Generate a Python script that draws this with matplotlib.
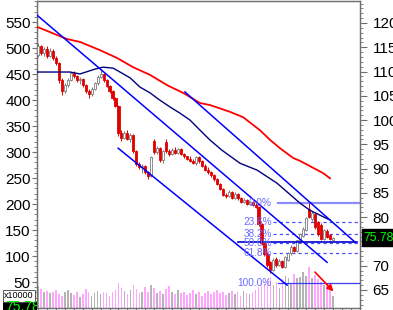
import numpy as np
import matplotlib.pyplot as plt
from matplotlib.ticker import MultipleLocator, NullFormatter
from matplotlib.patches import Rectangle
import matplotlib.transforms as mtransforms

plt.rcParams['font.family'] = ['Liberation Sans', 'DejaVu Sans']

# daily bars, price on the right hand scale
opens = [113.5, 115.2, 113.8, 114.6, 113.2, 114.3, 112.8, 111.8, 108.2, 106.0,
         107.2, 108.3, 109.6, 109.0, 108.2, 108.5, 107.2, 105.9, 105.3, 106.5,
         107.6, 108.9, 109.4, 108.2, 107.1, 105.9, 104.6, 103.0, 97.3, 96.3,
         97.4, 96.2, 97.0, 93.6, 90.9, 90.3, 90.6, 89.3, 88.5, 95.6,
         93.4, 94.2, 91.8, 95.5, 93.6, 93.0, 93.9, 93.3, 94.0, 93.1,
         92.5, 92.0, 91.6, 91.2, 92.3, 91.5, 90.6, 89.8, 89.3, 88.6,
         87.8, 86.9, 85.8, 84.6, 84.3, 85.2, 84.0, 84.8, 83.9, 83.2,
         83.6, 82.8, 83.1, 82.5, 82.1, 78.6, 74.6, 72.5, 70.8, 69.1,
         71.4, 70.1, 71.0, 69.8, 71.2, 72.6, 73.9, 73.1, 75.0, 76.2,
         77.4, 81.6, 79.6, 80.6, 79.0, 78.4, 75.6, 77.2, 76.3, 75.4]
highs = [115.8, 115.5, 115.0, 115.2, 114.8, 114.6, 113.2, 112.0, 108.6, 107.6,
         108.6, 110.0, 110.2, 109.3, 108.8, 108.7, 107.4, 106.5, 106.8, 107.9,
         109.2, 110.4, 109.6, 108.4, 107.3, 106.1, 104.8, 103.2, 98.0, 97.8,
         97.9, 97.3, 97.2, 93.8, 91.4, 91.0, 90.8, 89.6, 92.6, 96.2,
         94.6, 94.4, 93.9, 96.1, 94.1, 94.2, 94.5, 94.3, 94.2, 93.3,
         92.7, 92.6, 91.9, 92.6, 92.5, 91.7, 90.9, 90.4, 89.5, 88.8,
         88.0, 87.1, 86.0, 85.0, 85.6, 85.4, 85.1, 85.0, 84.1, 83.9,
         83.8, 83.4, 83.3, 82.9, 82.3, 78.9, 74.9, 72.8, 71.0, 71.6,
         71.8, 71.3, 71.2, 72.0, 72.9, 74.2, 74.1, 75.4, 76.8, 77.9,
         80.1, 82.9, 81.2, 80.9, 79.3, 78.7, 77.6, 77.5, 76.5, 76.0]
lows = [113.0, 113.4, 113.2, 112.8, 112.9, 112.4, 111.3, 107.6, 105.1, 105.6,
        106.8, 108.0, 108.7, 107.9, 107.4, 106.9, 105.6, 104.5, 105.0, 106.2,
        107.3, 108.6, 107.9, 106.8, 105.6, 104.2, 102.6, 96.8, 95.6, 96.0,
        95.8, 95.4, 93.2, 90.5, 89.9, 89.2, 88.9, 87.9, 88.2, 93.0,
        93.1, 91.4, 91.2, 93.3, 92.6, 92.8, 93.0, 93.1, 92.9, 92.2,
        91.7, 91.4, 90.9, 90.8, 91.2, 90.3, 89.5, 88.9, 88.3, 87.5,
        86.6, 85.5, 84.3, 84.0, 84.1, 83.8, 83.8, 83.6, 82.9, 83.0,
        82.6, 82.5, 82.2, 81.8, 78.2, 74.2, 72.0, 69.7, 68.4, 68.9,
        69.8, 69.9, 69.5, 69.5, 71.0, 72.3, 72.8, 72.9, 74.7, 75.9,
        77.1, 79.8, 79.3, 77.6, 76.2, 75.2, 75.4, 75.7, 75.2, 75.2]
closes = [115.2, 113.8, 114.6, 113.2, 114.3, 112.8, 111.8, 108.2, 106.0, 107.2,
          108.3, 109.6, 109.0, 108.2, 108.5, 107.2, 105.9, 105.3, 106.5, 107.6,
          108.9, 109.4, 108.2, 107.1, 105.9, 104.6, 103.0, 97.3, 96.3, 97.4,
          96.2, 97.0, 93.6, 90.9, 90.3, 90.6, 89.3, 88.5, 92.3, 93.4,
          94.2, 91.8, 93.6, 93.6, 93.0, 93.9, 93.3, 94.0, 93.1, 92.5,
          92.0, 91.6, 91.2, 92.3, 91.5, 90.6, 89.8, 89.3, 88.6, 87.8,
          86.9, 85.8, 84.6, 84.3, 85.2, 84.0, 84.8, 83.9, 83.2, 83.6,
          82.8, 83.1, 82.5, 82.1, 78.6, 74.6, 72.5, 70.1, 69.1, 71.2,
          70.1, 71.0, 69.8, 71.8, 72.6, 73.9, 73.1, 75.2, 76.5, 77.6,
          79.8, 80.1, 80.9, 78.0, 76.5, 75.6, 77.3, 76.0, 75.5, 75.78]
# volume on the left hand scale (x10000)
volume = [42, 36, 30, 33, 28, 31, 35, 26, 24, 30,
          34, 28, 25, 31, 22, 27, 36, 30, 24, 29,
          33, 26, 31, 28, 24, 30, 35, 48, 38, 32,
          26, 35, 44, 36, 28, 31, 40, 30, 45, 38,
          29, 33, 27, 36, 42, 30, 26, 34, 28, 31,
          25, 29, 35, 27, 31, 24, 28, 33, 26, 30,
          35, 28, 31, 25, 29, 33, 27, 30, 24, 32,
          28, 26, 31, 34, 40, 52, 47, 55, 60, 44,
          50, 38, 56, 62, 57, 48, 66, 58, 60, 70,
          62, 79, 58, 64, 55, 50, 44, 46, 38, 24]

# moving averages (bar, price)
ma_long_x = [-0.3, 9.7, 14.1, 20.8, 26.5, 31.9, 37.6, 43.3, 48.7, 54.4,
             57.7, 64.4, 68.8, 74.5, 77.9, 81.2, 85.6, 87.9, 95.6, 98.0]
ma_long = [119.2, 116.7, 116.1, 114.4, 112.8, 110.9, 109.3, 107.2, 105.6, 103.5,
           103.1, 101.7, 100.6, 97.9, 95.9, 94.2, 92.2, 91.6, 89.1, 88.0]
ma_short_x = [-0.3, 10.7, 14.1, 19.1, 21.8, 25.2, 27.5, 30.9, 34.2, 37.6, 40.9, 44.3,
              47.7, 51.0, 54.4, 57.7, 61.7, 67.8, 73.5, 80.2, 87.9, 91.3, 98.0]
ma_short = [109.9, 109.9, 109.5, 110.5, 110.9, 110.7, 109.9, 108.7, 106.8, 105.6, 104.1, 102.7,
            101.4, 100.0, 97.9, 95.9, 93.8, 91.1, 89.7, 87.0, 82.9, 81.4, 79.4]

# trend channel lines (bar start/end, price start/end)
chan_x = [[-0.3, 97.0], [26.9, 83.6], [49.3, 106.4]]
chan_y = [[121.6, 70.7], [94.2, 66.0], [105.8, 74.85]]
support = 74.85
fib_hi, fib_lo = 82.9, 66.4
fib_pct = [0.0, 23.6, 38.2, 50.0, 61.8, 100.0]
last = 75.78

n = len(closes)
x = np.arange(n)
up = np.array(closes) >= np.array(opens)

fig = plt.figure(figsize=(3.93, 3.10), dpi=100)
axv = fig.add_axes([37/393, 2/310, 323/393, 307/310])
ax = axv.twinx()

# volume
vcol = ['#b4b4b4' if u else '#ffa6ff' for u in up]
axv.bar(x, volume, width=0.55, color=vcol, linewidth=0)
axv.set_ylim(0, 590.4)
axv.set_xlim(-0.34, 108.05)

# candles
for i in range(n):
    c = '#7a7a7a' if up[i] else '#e00000'
    ax.vlines(x[i], lows[i], highs[i], color=c, lw=0.7, zorder=3)
    h = closes[i] - opens[i]
    if abs(h) < 0.15:
        h = 0.15 if h >= 0 else -0.15
    ax.bar(x[i], h, bottom=opens[i], width=0.7,
           color='white' if up[i] else '#e00000',
           edgecolor=c, linewidth=0.6, zorder=4)

ax.plot(ma_long_x, ma_long, color='#ff0000', lw=1.3, zorder=5)
ax.plot(ma_short_x, ma_short, color='#000080', lw=1.0, zorder=5)
for cx, cy in zip(chan_x, chan_y):
    ax.plot(cx, cy, color='#0000ff', lw=1.1, zorder=5)

ax.plot([67.1, 107.0], [support, support], color='#0000cc', lw=1.2, zorder=5)

# fibonacci retracement
for p in fib_pct:
    lv = fib_hi - (fib_hi - fib_lo) * p / 100
    if p == 0.0:
        ax.plot([80.5, 108.05], [lv, lv], color='#8c8cff', lw=1.6, zorder=2)
    elif p == 100.0:
        ax.plot([80.5, 108.05], [lv, lv], color='#3c3cff', lw=0.9, zorder=2)
    else:
        ax.plot([78.9, 108.05], [lv, lv], color='#4a4aff', lw=0.9,
                ls=(0, (2.5, 2.5)), zorder=2)
    ax.text(78.5, lv, '%.1f%%' % p, color='#6a6aff', fontsize=7.2,
            ha='right', va='center', zorder=6)

ax.annotate('', xy=(99.8, 64.3), xytext=(92.3, 69.1),
            arrowprops=dict(arrowstyle='-|>', color='#ff0000', lw=1.2,
                            mutation_scale=9), zorder=6)

ax.set_ylim(61.29, 124.53)
ax.set_xlim(-0.34, 108.05)

# axes styling
for a in (ax, axv):
    for s in a.spines.values():
        s.set_color('#707070')
        s.set_linewidth(0.9)
ax.set_yticks(np.arange(65, 121, 5))
ax.yaxis.set_minor_locator(MultipleLocator(1))
ax.tick_params(axis='y', which='major', length=5, pad=4, labelsize=11,
               color='#707070', direction='out')
ax.tick_params(axis='y', which='minor', length=2.5, color='#707070')

axv.set_yticks(np.arange(50, 551, 50))
axv.yaxis.set_minor_locator(MultipleLocator(10))
axv.tick_params(axis='y', which='major', length=3.5, pad=1, labelsize=11,
                color='#707070', direction='out')
axv.tick_params(axis='y', which='minor', length=2, color='#707070')
axv.xaxis.set_major_locator(MultipleLocator(3))
axv.xaxis.set_major_formatter(NullFormatter())
axv.tick_params(axis='x', length=2, color='#707070')

# last price tag on the right scale
tr = mtransforms.blended_transform_factory(ax.transAxes, ax.transData)
ax.text(1.012, last, '75.78', transform=tr, color='#00ff00', fontsize=8.8,
        ha='left', va='center', clip_on=False, zorder=10,
        bbox=dict(boxstyle='square,pad=0.18', fc='black', ec='black'))

# boxes at the bottom of the left scale
fig.text(4/393, 14/310, 'x10000', fontsize=6.5, color='black',
         va='center', ha='left',
         bbox=dict(boxstyle='square,pad=0.12', fc='white', ec='#404040', lw=0.6))
rect = Rectangle((3/393, 0), 34/393, 9/310, transform=fig.transFigure,
                 fc='black', ec='none')
fig.patches.append(rect)
t = fig.text(5/393, 3/310, '75.78', fontsize=10, color='#00ff00',
             va='center', ha='left')
t.set_clip_path(rect)

fig.savefig('out.png', dpi=100)
